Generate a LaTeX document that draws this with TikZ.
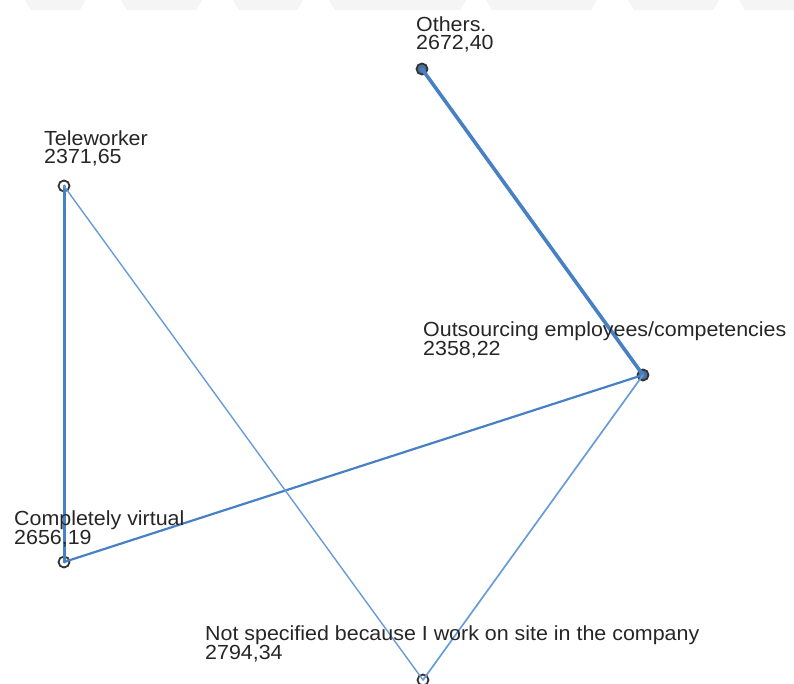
\documentclass[tikz,border=0pt]{standalone}
\usepackage{fontspec}
\setmainfont{Liberation Sans}[FakeStretch=1.05]
\definecolor{tiethick}{RGB}{72,128,196}
\definecolor{tiethin}{RGB}{104,156,214}
\definecolor{vtxfill}{RGB}{78,112,160}
\begin{document}
\begin{tikzpicture}[x=1pt,y=-1pt,
  lbl/.style={anchor=base west,inner sep=0pt,align=left,
    font=\fontsize{20.4}{18.5}\selectfont,text=black!85},
  vtx/.style={circle,draw=black!80,line width=1.8pt,minimum size=11pt,inner sep=0pt,fill=white},
  vtxf/.style={vtx,fill=vtxfill},
  tie/.style={draw=tiethick,line cap=round},
  band/.style={fill=gray!8,draw=none}]
\useasboundingbox (0,0) rectangle (794,684);
% faint strip along the top edge
\foreach \a/\b in {25/86,121/202,233/303,329/466,486/597,628/719,739/800}
  \path[band] (\a,0) -- (\b,0) -- (\b-6,10) -- (\a+6,10) -- cycle;
% vertices
\node[vtxf] (oth) at (422,69) {};
\node[vtx]  (tel) at (64,186) {};
\node[vtxf] (out) at (643,375) {};
\node[vtx]  (cv)  at (64,562) {};
\node[vtx]  (ns)  at (423,680) {};
% ties, drawn centre to centre over the vertices
\draw[tie,line width=3.6pt] (oth.center) -- (out.center);
\draw[tie,line width=3pt]   (tel.center) -- (cv.center);
\draw[tie,line width=2.2pt] (out.center) -- (cv.center);
\draw[tie,line width=1.4pt,draw=tiethin] (tel.center) -- (ns.center);
\draw[tie,line width=1.7pt,draw=tiethin] (out.center) -- (ns.center);
% labels (anchored at the baseline of their last line)
\node[lbl] (loth) at (416,50)  {Others.\\2672,40};
\node[lbl] (ltel) at (44,164)  {Teleworker\\2371,65};
\node[lbl] (lout) at (423,355) {Outsourcing employees/competencies\\2358,22};
\node[lbl] (lcv)  at (14,544)  {Completely virtual\\2656,19};
\node[lbl] (lns)  at (205,659) {Not specified because I work on site in the company\\2794,34};
\end{tikzpicture}
\end{document}
